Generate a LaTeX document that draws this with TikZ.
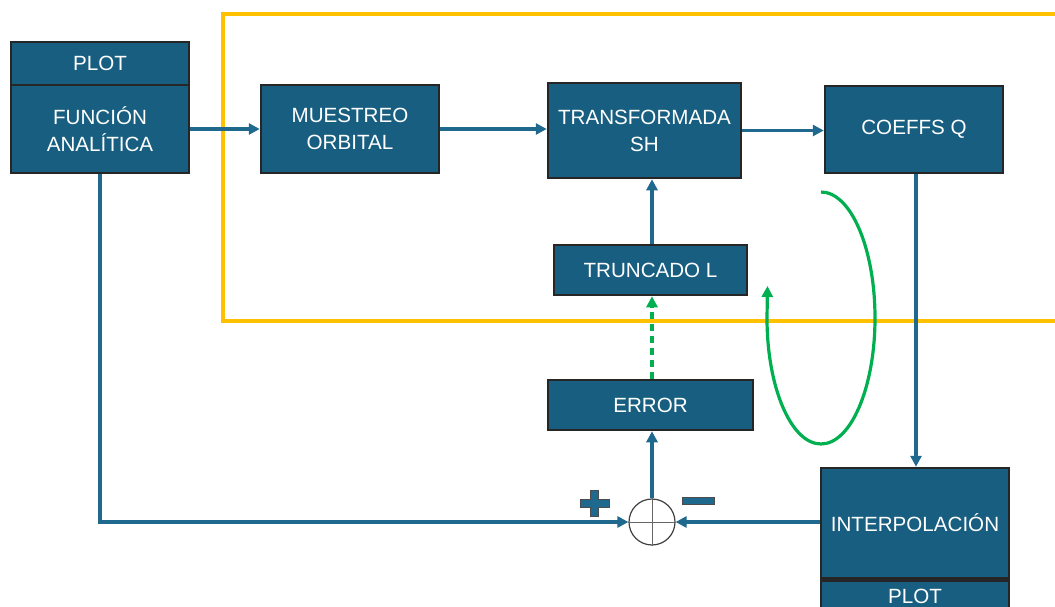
\documentclass[tikz,border=0pt]{standalone}
\usepackage{fontspec}
\setmainfont{Liberation Sans}
\usetikzlibrary{arrows.meta}
\definecolor{boxblue}{RGB}{23,94,128}
\definecolor{lineblue}{RGB}{31,105,142}
\definecolor{yel}{RGB}{255,192,0}
\definecolor{grn}{RGB}{0,176,80}
\tikzset{
  blk/.style={draw=black!85, line width=2.5pt, fill=boxblue, text=white,
    font=\fontsize{20.6}{27}\selectfont, align=center, inner sep=0pt},
  arr/.style={draw=lineblue, line width=3.4pt, -{Triangle[length=11pt,width=11pt]}},
  garr/.style={draw=grn, line width=3.2pt, -{Triangle[length=11pt,width=11pt]}},
}
\begin{document}
\begin{tikzpicture}[x=1pt,y=-1pt]
\useasboundingbox (0,0) rectangle (1055,607);
\clip (0,0) rectangle (1055,607);
% yellow frame
\draw[yel, line width=4pt] (1080,321) -- (223,321) -- (223,14) -- (1080,14);
% boxes
\node[blk, minimum width=178, minimum height=43] (plot1) at (100,63.5) {PLOT};
\node[blk, minimum width=178, minimum height=88] (func) at (100,129) {FUNCIÓN\\ANALÍTICA};
\node[blk, minimum width=178, minimum height=88] (mues) at (350,129) {MUESTREO\\ORBITAL};
\node[blk, minimum width=193, minimum height=95] (trans) at (644.5,130.5) {TRANSFORMADA\\SH};
\node[blk, minimum width=178, minimum height=87] (coef) at (914,129.5) {COEFFS Q};
\node[blk, minimum width=193, minimum height=50] (trunc) at (650.5,270) {TRUNCADO L};
\node[blk, minimum width=205, minimum height=50] (err) at (650.5,405) {ERROR};
\node[blk, minimum width=188, minimum height=110] (interp) at (915,523) {INTERPOLACIÓN};
\node[blk, minimum width=188, minimum height=44, anchor=north, text depth=0pt] (plot2) at (interp.south) {\raisebox{12pt}{PLOT}};
% summing junction
\node[circle, draw=black!75, line width=1.2pt, fill=white, minimum size=46, inner sep=0pt] (sum) at (652,522) {};
\draw[black!60, line width=1pt] (sum.north) -- (sum.south) (sum.west) -- (sum.east);
% connectors
\draw[arr] (func.east) -- (mues.west);
\draw[arr] (mues.east) -- (mues.east -| trans.west);
\draw[arr] (trans.east) -- (trans.east -| coef.west);
\draw[arr] ([xshift=2pt]coef.south) -- ([xshift=2pt]coef.south |- interp.north);
\draw[arr] (trunc.north -| sum.north) -- (trans.south -| sum.north);
\draw[garr, dash pattern=on 7pt off 5pt] (err.north -| sum.north) -- (trunc.south -| sum.north);
\draw[arr] (sum.north) -- (err.south -| sum.north);
\draw[arr] (func.south) |- (sum.west);
\draw[arr] (interp.west |- sum.east) -- (sum.east);
% green loop (elliptic)
\coordinate (gs) at (821,192);
\coordinate (ge) at (767.5,286);
\draw[garr] (gs) .. controls (850.8,192) and (875,248.4) .. (875,318)
  .. controls (875,387.6) and (850.8,444) .. (821,444)
  .. controls (791.2,444) and (767,387.6) .. (767,318)
  -- (ge);
% plus and minus signs
\fill[lineblue, draw=black!70, line width=0.8pt]
  (590.5,490) -- (598.5,490) -- (598.5,499) -- (609,499) -- (609,507) -- (598.5,507)
  -- (598.5,516) -- (590.5,516) -- (590.5,507) -- (580,507) -- (580,499) -- (590.5,499) -- cycle;
\fill[lineblue, draw=black!70, line width=0.8pt] (682,497.5) rectangle (714,504);
\end{tikzpicture}
\end{document}
